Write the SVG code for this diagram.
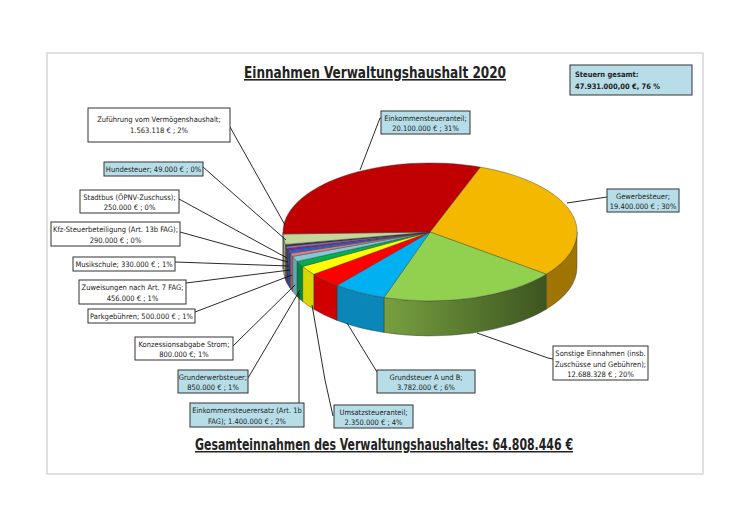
<svg xmlns="http://www.w3.org/2000/svg" width="750" height="530" viewBox="0 0 750 530">
<defs>
<linearGradient id="gS" x1="0" x2="1" y1="0" y2="0"><stop offset="0" stop-color="#77A040"/><stop offset="1" stop-color="#3D5520"/></linearGradient>
</defs>
<style>
text{font-family:"DejaVu Sans Condensed","DejaVu Sans","Liberation Sans",sans-serif;fill:#222}
.l{font-size:7.5px;text-anchor:middle}
.bw{fill:#fff;stroke:#333;stroke-width:1}
.bb{fill:#B7DEE8;stroke:#333;stroke-width:1}
.s{stroke:#333;stroke-width:0.4}
#connectors path{fill:none;stroke:#111;stroke-width:0.9}
</style>
<rect x="0" y="0" width="750" height="530" fill="#fff"/>
<rect x="47" y="53" width="656" height="421" fill="#fff" stroke="#ccc" stroke-width="1.2"/>
<text x="375" y="78" font-size="16" font-weight="bold" text-anchor="middle" text-decoration="underline" textLength="262" lengthAdjust="spacingAndGlyphs">Einnahmen Verwaltungshaushalt 2020</text>
<g id="steuern"><rect x="570" y="65" width="122" height="30" class="bb"/><text x="575" y="77" font-size="7.5" font-weight="bold">Steuern gesamt:</text><text x="575" y="89" font-size="7.5" font-weight="bold">47.931.000,00 €, 76 %</text></g>
<text x="384" y="450" font-size="15" font-weight="bold" text-anchor="middle" text-decoration="underline" textLength="378" lengthAdjust="spacingAndGlyphs">Gesamteinnahmen des Verwaltungshaushaltes: 64.808.446 €</text>

<g id="pie">
<!-- sides -->
<path class="s" fill="#A07400" d="M577,232 A147,69 0 0 1 546.3,274.2 L546.3,309.2 A147,69 0 0 0 577,267 Z"/>
<path class="s" fill="url(#gS)" d="M546.3,274.2 A147,69 0 0 1 384,297.5 L384,332.5 A147,69 0 0 0 546.3,309.2 Z"/>
<path class="s" fill="#0A86B8" d="M384,297.5 A147,69 0 0 1 337,285.4 L337,320.4 A147,69 0 0 0 384,332.5 Z"/>
<path class="s" fill="#D00000" d="M337,285.4 A147,69 0 0 1 313.7,274.2 L313.7,309.2 A147,69 0 0 0 337,320.4 Z"/>
<path class="s" fill="#D8D800" d="M313.7,274.2 A147,69 0 0 1 302.6,266.4 L302.6,301.4 A147,69 0 0 0 313.7,309.2 Z"/>
<path class="s" fill="#008A40" d="M302.6,266.4 A147,69 0 0 1 297,261.4 L297,296.4 A147,69 0 0 0 302.6,301.4 Z"/>
<path class="s" fill="#5FA8BA" d="M297,261.4 A147,69 0 0 1 292.6,256.4 L292.6,291.4 A147,69 0 0 0 297,296.4 Z"/>
<path class="s" fill="#B05A5A" d="M292.6,256.4 A147,69 0 0 1 290.2,253.3 L290.2,288.3 A147,69 0 0 0 292.6,291.4 Z"/>
<path class="s" fill="#1E46A0" d="M290.2,253.3 A147,69 0 0 1 288.3,250.4 L288.3,285.4 A147,69 0 0 0 290.2,288.3 Z"/>
<path class="s" fill="#502080" d="M288.3,250.4 A147,69 0 0 1 287.1,248.2 L287.1,283.2 A147,69 0 0 0 288.3,285.4 Z"/>
<path class="s" fill="#A0509A" d="M287.1,248.2 A147,69 0 0 1 286.2,246.4 L286.2,281.4 A147,69 0 0 0 287.1,283.2 Z"/>
<path class="s" fill="#14284A" d="M286.2,246.4 A147,69 0 0 1 285.4,244.4 L285.4,279.4 A147,69 0 0 0 286.2,281.4 Z"/>
<path class="s" fill="#9AAA78" d="M285.4,244.4 A147,69 0 0 1 283.1,234 L283.1,269 A147,69 0 0 0 285.4,279.4 Z"/>
<path class="s" fill="#8B0000" d="M283.1,234 A147,69 0 0 1 283,232 L283,267 A147,69 0 0 0 283.1,269 Z"/>
<!-- top -->
<path class="s" fill="#F5B800" d="M430,232 L480.3,167.1 A147,69 0 0 1 546.3,274.2 Z"/>
<path class="s" fill="#92D050" d="M430,232 L546.3,274.2 A147,69 0 0 1 384,297.5 Z"/>
<path class="s" fill="#00B0F0" d="M430,232 L384,297.5 A147,69 0 0 1 337,285.4 Z"/>
<path class="s" fill="#FF0000" d="M430,232 L337,285.4 A147,69 0 0 1 313.7,274.2 Z"/>
<path class="s" fill="#FFFF00" d="M430,232 L313.7,274.2 A147,69 0 0 1 302.6,266.4 Z"/>
<path class="s" fill="#00B050" d="M430,232 L302.6,266.4 A147,69 0 0 1 297,261.4 Z"/>
<path class="s" fill="#86C8DA" d="M430,232 L297,261.4 A147,69 0 0 1 292.6,256.4 Z"/>
<path class="s" fill="#D98080" d="M430,232 L292.6,256.4 A147,69 0 0 1 290.2,253.3 Z"/>
<path class="s" fill="#2E60C8" d="M430,232 L290.2,253.3 A147,69 0 0 1 288.3,250.4 Z"/>
<path class="s" fill="#7030A0" d="M430,232 L288.3,250.4 A147,69 0 0 1 287.1,248.2 Z"/>
<path class="s" fill="#C070C0" d="M430,232 L287.1,248.2 A147,69 0 0 1 286.2,246.4 Z"/>
<path class="s" fill="#1F3864" d="M430,232 L286.2,246.4 A147,69 0 0 1 285.5,244.7 Z"/>
<path class="s" fill="#F0A0C0" d="M430,232 L285.5,244.7 A147,69 0 0 1 285.4,244.4 Z"/>
<path class="s" fill="#C4D79B" d="M430,232 L285.4,244.4 A147,69 0 0 1 283.1,234 Z"/>
<path class="s" fill="#C00000" d="M430,232 L283.1,234 A147,69 0 0 1 480.3,167.1 Z"/>
</g>

<g id="connectors">
<path d="M230,127 L285,225"/>
<path d="M203,167 L286,240"/>
<path d="M179,199 L287,258"/>
<path d="M180,232 L288,262"/>
<path d="M175,262 L289,266"/>
<path d="M186,283 L290,270"/>
<path d="M195,312 L292,275"/>
<path d="M233,346 L295,285"/>
<path d="M248,378 L300,290"/>
<path d="M299,403 L299,293"/>
<path d="M333,416 L325,380 L312,305"/>
<path d="M377,372 L347,323"/>
<path d="M553,359 L548,358 L477,333"/>
<path d="M607,197 L567,203"/>
<path d="M381,118 L380,118 L360,170"/>
</g>

<g id="n-zuf"><rect class="bw" x="88" y="108" width="142" height="34"/><text class="l" x="159" y="122">Zuführung vom Vermögenshaushalt;</text><text class="l" x="159" y="133">1.563.118 € ; 2%</text></g>
<g id="n-hunde"><rect class="bb" x="104" y="162" width="99" height="14"/><text class="l" x="153.5" y="172">Hundesteuer;  49.000 € ; 0%</text></g>
<g id="n-stadtbus"><rect class="bw" x="80" y="190" width="99" height="23"/><text class="l" x="129.5" y="200">Stadtbus (ÖPNV-Zuschuss);</text><text class="l" x="129.5" y="210">250.000 € ; 0%</text></g>
<g id="n-kfz"><rect class="bw" x="51" y="222" width="129" height="24"/><text class="l" x="115.5" y="232">Kfz-Steuerbeteiligung (Art. 13b FAG);</text><text class="l" x="115.5" y="243">290.000 € ; 0%</text></g>
<g id="n-musik"><rect class="bw" x="73" y="257" width="102" height="14"/><text class="l" x="124" y="267">Musikschule;  330.000 € ; 1%</text></g>
<g id="n-zuw"><rect class="bw" x="79" y="280" width="107" height="24"/><text class="l" x="132.5" y="290">Zuweisungen nach Art. 7 FAG;</text><text class="l" x="132.5" y="301">456.000 € ; 1%</text></g>
<g id="n-park"><rect class="bw" x="88" y="309" width="107" height="14"/><text class="l" x="141.5" y="319">Parkgebühren;  500.000 € ; 1%</text></g>
<g id="n-konz"><rect class="bw" x="135" y="337" width="98" height="23"/><text class="l" x="184" y="347">Konzessionsabgabe Strom;</text><text class="l" x="184" y="357">800.000 €; 1%</text></g>
<g id="n-grunderwerb"><rect class="bb" x="178" y="370" width="70" height="23"/><text class="l" x="213" y="380">Grunderwerbsteuer;</text><text class="l" x="213" y="390">850.000 € ; 1%</text></g>
<g id="n-este"><rect class="bb" x="190" y="403" width="114" height="24"/><text class="l" x="247" y="413">Einkommensteuerersatz (Art. 1b</text><text class="l" x="247" y="424">FAG);  1.400.000 € ; 2%</text></g>
<g id="n-umsatz"><rect class="bb" x="334" y="405" width="79" height="23"/><text class="l" x="373.5" y="415">Umsatzsteueranteil;</text><text class="l" x="373.5" y="425">2.350.000 € ; 4%</text></g>
<g id="n-grund"><rect class="bb" x="377" y="370" width="98" height="23"/><text class="l" x="426" y="380">Grundsteuer A und B;</text><text class="l" x="426" y="390">3.782.000 € ; 6%</text></g>
<g id="n-sonst"><rect class="bw" x="553" y="346" width="95" height="34"/><text class="l" x="600.5" y="356">Sonstige Einnahmen (insb.</text><text class="l" x="600.5" y="367">Zuschüsse und Gebühren);</text><text class="l" x="600.5" y="377">12.688.328 € ; 20%</text></g>
<g id="n-gew"><rect class="bb" x="607" y="189" width="72" height="23"/><text class="l" x="643" y="199">Gewerbesteuer;</text><text class="l" x="643" y="209">19.400.000 € ; 30%</text></g>
<g id="n-est"><rect class="bb" x="381" y="111" width="89" height="23"/><text class="l" x="425.5" y="121">Einkommensteueranteil;</text><text class="l" x="425.5" y="131">20.100.000 € ; 31%</text></g>
</svg>
